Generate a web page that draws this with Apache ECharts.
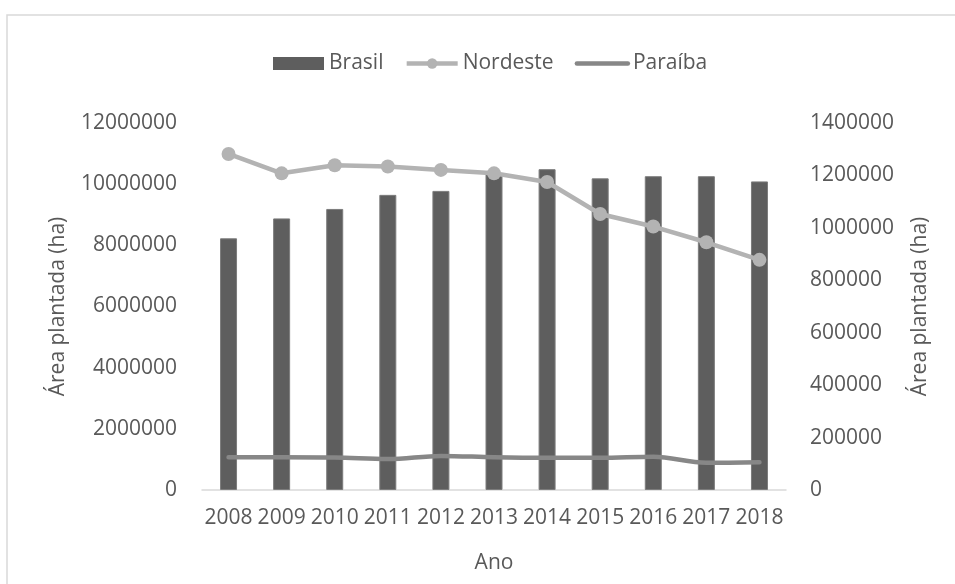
<!DOCTYPE html>
<html>
<head>
<meta charset="utf-8">
<script src="https://cdn.jsdelivr.net/npm/echarts@6/dist/echarts.min.js"></script>
<style>
  html, body { margin: 0; padding: 0; background: #fff; }
  #chart { width: 955px; height: 584px; }
</style>
</head>
<body>
<div id="chart"></div>
<script>
// Área plantada (ha), 2008–2018
const anos = ['2008', '2009', '2010', '2011', '2012', '2013', '2014', '2015', '2016', '2017', '2018'];
const brasil = [8230000, 8880000, 9190000, 9650000, 9780000, 10350000, 10490000, 10190000, 10260000, 10260000, 10090000];
const nordeste = [1282000, 1208000, 1239000, 1234000, 1221000, 1208000, 1175000, 1053000, 1005000, 945000, 878000];
const paraiba = [125000, 125000, 124000, 118000, 130000, 125000, 123000, 123000, 127000, 104000, 106000];

const fonte = 'Open Sans';
const corTexto = '#595959';
const semSeparador = v => String(v);

const chart = echarts.init(document.getElementById('chart'), null, { renderer: 'canvas' });

chart.setOption({
  backgroundColor: '#ffffff',
  textStyle: { fontFamily: fonte, color: corTexto },
  graphic: [{
    type: 'rect',
    shape: { x: 7, y: 15, width: 1000, height: 650 },
    style: { fill: 'none', stroke: '#d9d9d9', lineWidth: 1.5 },
    silent: true,
    z: -1
  }],
  legend: {
    top: 48,
    left: 268,
    itemWidth: 51,
    itemHeight: 13,
    itemGap: 21,
    textStyle: { fontFamily: fonte, fontSize: 21, color: corTexto },
    data: [
      { name: 'Brasil', icon: 'rect', itemStyle: { borderWidth: 0 } },
      { name: 'Nordeste', lineStyle: { width: 4.5 } },
      { name: 'Paraíba', itemStyle: { opacity: 0 }, lineStyle: { width: 4.5, opacity: 1 } }
    ]
  },
  grid: { left: 202, right: 169, top: 123, bottom: 94 },
  xAxis: {
    type: 'category',
    data: anos,
    name: 'Ano',
    nameLocation: 'middle',
    nameGap: 63,
    nameTextStyle: { fontFamily: fonte, fontSize: 21, color: corTexto },
    axisLine: { lineStyle: { color: '#d9d9d9', width: 1.5 } },
    axisTick: { length: 7, lineStyle: { color: '#d9d9d9', width: 1.5 } },
    axisLabel: { interval: 0, margin: 18, fontFamily: fonte, fontSize: 21, color: corTexto },
    splitLine: { show: false }
  },
  yAxis: [{
    type: 'value',
    min: 0,
    max: 12000000,
    interval: 2000000,
    name: 'Área plantada (ha)',
    nameLocation: 'middle',
    nameGap: 133,
    nameTextStyle: { fontFamily: fonte, fontSize: 21, color: corTexto },
    axisLine: { show: false },
    axisTick: { show: false },
    splitLine: { show: false },
    axisLabel: { margin: 25, fontFamily: fonte, fontSize: 21, color: corTexto, formatter: semSeparador }
  }, {
    type: 'value',
    min: 0,
    max: 1400000,
    interval: 200000,
    name: 'Área plantada (ha)',
    nameLocation: 'middle',
    nameGap: 124,
    nameTextStyle: { fontFamily: fonte, fontSize: 21, color: corTexto },
    axisLine: { show: false },
    axisTick: { show: false },
    splitLine: { show: false },
    axisLabel: { margin: 24, fontFamily: fonte, fontSize: 21, color: corTexto, formatter: semSeparador }
  }],
  series: [{
    name: 'Brasil',
    type: 'bar',
    yAxisIndex: 0,
    data: brasil,
    barWidth: 17,
    itemStyle: { color: '#5e5e5e', borderColor: '#7c7c7c', borderWidth: 1 },
    z: 1
  }, {
    name: 'Nordeste',
    type: 'line',
    yAxisIndex: 1,
    data: nordeste,
    symbol: 'circle',
    symbolSize: 14,
    lineStyle: { color: '#b3b3b3', width: 4.5 },
    itemStyle: { color: '#b3b3b3' },
    z: 3
  }, {
    name: 'Paraíba',
    type: 'line',
    yAxisIndex: 1,
    data: paraiba,
    smooth: 0.35,
    symbol: 'none',
    lineStyle: { color: '#878787', width: 4.5, cap: 'round' },
    itemStyle: { color: '#878787' },
    z: 2
  }],
  animation: false
});
</script>
</body>
</html>
